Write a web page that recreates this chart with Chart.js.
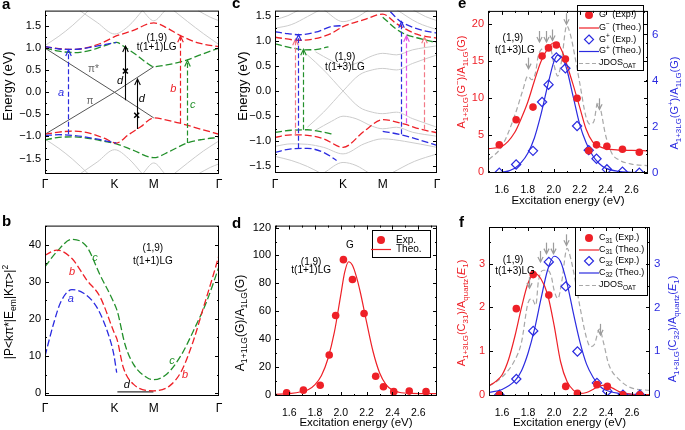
<!DOCTYPE html>
<html>
<head>
<meta charset="utf-8">
<title>Optical transitions in t(1+1)LG and t(1+3)LG</title>
<script src="https://cdn.jsdelivr.net/npm/chart.js@4.4.1/dist/chart.umd.min.js"></script>
<style>
  html, body { margin: 0; padding: 0; background: #fff; }
  body { position: relative; width: 685px; height: 430px; overflow: hidden; }
  canvas { position: absolute; }
</style>
</head>
<body>
<canvas id="pa" width="230" height="215" style="left:0;top:0"></canvas>
<canvas id="pb" width="230" height="215" style="left:0;top:215px"></canvas>
<canvas id="pc" width="230" height="215" style="left:230px;top:0"></canvas>
<canvas id="pd" width="230" height="215" style="left:230px;top:215px"></canvas>
<canvas id="pe" width="235" height="215" style="left:450px;top:0"></canvas>
<canvas id="pf" width="235" height="215" style="left:450px;top:215px"></canvas>
<script>
/* ---------- colours / fonts ---------- */
var FONT = "'Liberation Sans', Arial, Helvetica, sans-serif";
var RED = '#ee2027', BLUE = '#2b2be0', GREEN = '#23902b', PINK = '#f27a86', MAGENTA = '#e455e4';
var BAND = '#cccccc', JDOS = '#a8a8a8', ARROW = '#9c9c9c';

/* ---------- a: bands of (1,9) t(1+1)LG along Γ-K-M-Γ ---------- */
var kPos = [0, 0.40, 0.625, 1];
var kLabels = ['Γ', 'K', 'M', 'Γ'];

var aCondBlue  = [[0, 1.04], [0.08, 0.98], [0.16, 0.97], [0.25, 1.01], [0.33, 1.07], [0.41, 1.13]];
var aCondRed   = [[0, 1.03], [0.08, 0.99], [0.17, 0.97], [0.26, 1.03], [0.34, 1.14], [0.40, 1.26], [0.5, 1.39], [0.625, 1.57], [0.7, 1.46], [0.776, 1.29], [0.88, 1.12], [1, 1.03]];
var aCondGreen = [[0, 1.0], [0.08, 0.93], [0.17, 0.9], [0.26, 0.95], [0.34, 1.05], [0.41, 1.13], [0.46, 1.02], [0.52, 0.86], [0.58, 0.68], [0.625, 0.58], [0.7, 0.62], [0.814, 0.73], [0.9, 0.86], [1, 1.0]];
var aValBlue   = [[0, -0.98], [0.08, -0.96], [0.17, -0.98], [0.26, -1.03], [0.34, -1.09], [0.41, -1.15]];
var aValRed    = [[0, -0.95], [0.08, -0.9], [0.17, -0.88], [0.26, -0.93], [0.34, -1.04], [0.41, -1.15], [0.48, -0.96], [0.55, -0.78], [0.625, -0.58], [0.7, -0.63], [0.776, -0.7], [0.9, -0.84], [1, -0.95]];
var aValGreen  = [[0, -1.08], [0.08, -1.02], [0.17, -1.01], [0.26, -1.05], [0.34, -1.11], [0.41, -1.17], [0.5, -1.3], [0.625, -1.48], [0.72, -1.33], [0.814, -1.15], [0.9, -1.07], [1, -1.02]];
var aPiStar    = [[0, 1.0], [0.40, 0.0], [0.625, -0.58]];
var aPi        = [[0, -0.95], [0.40, 0.0], [0.625, 0.58]];
var aGrey = [
  [[0, 1.06], [0.08, 1.27], [0.16, 1.52], [0.25, 1.85]],
  [[0.2, 1.85], [0.3, 1.58], [0.40, 1.32], [0.48, 1.5], [0.56, 1.85]],
  [[0.56, 1.85], [0.625, 1.62], [0.69, 1.85]],
  [[0.74, 1.85], [0.82, 1.6], [0.91, 1.33], [1, 1.08]],
  [[0.88, 1.85], [0.95, 1.7], [1, 1.62]],
  [[0, -1.06], [0.08, -1.27], [0.16, -1.52], [0.25, -1.85]],
  [[0.2, -1.85], [0.3, -1.58], [0.40, -1.3], [0.48, -1.5], [0.56, -1.85]],
  [[0.56, -1.85], [0.625, -1.6], [0.69, -1.85]],
  [[0.74, -1.85], [0.82, -1.6], [0.91, -1.33], [1, -1.1]],
  [[0.88, -1.85], [0.95, -1.7], [1, -1.62]]
];
var aArrowX  = [0.134, 0.776, 0.814, 0.462, 0.527];
var aArrowLo = [-0.95, -0.70, -1.15, -0.18, -0.83];
var aArrowHi = [0.96, 1.27, 0.72, 1.05, 0.30];
var aCrossX  = [0.462, 0.527];
var aCrossY  = [0.48, -0.52];

/* ---------- b: optical matrix elements ---------- */
var bCurveA = [[0, 10], [0.048, 18.5], [0.09, 24.5], [0.155, 27.9], [0.22, 27], [0.3, 23], [0.37, 15], [0.395, 10.5], [0.412, 5.5]];
var bCurveB = [[0, 37.2], [0.067, 38.6], [0.155, 36.3], [0.24, 30.5], [0.316, 26], [0.4, 16], [0.414, 14.5], [0.45, 6.9], [0.508, 2.4], [0.623, 0.6], [0.718, 2], [0.785, 6], [0.852, 14], [0.91, 23], [0.968, 32], [1, 37.2]];
var bCurveC = [[0, 34.1], [0.067, 38.1], [0.155, 41.5], [0.24, 39.5], [0.316, 31.9], [0.393, 24.7], [0.416, 22], [0.46, 13.1], [0.508, 7.8], [0.585, 4.2], [0.623, 3.6], [0.699, 5.1], [0.785, 10.4], [0.852, 16.7], [0.929, 24.7], [1, 34.1]];
var bCurveD = [[0.416, 0.3], [0.623, 0.3]];

/* ---------- c: bands of (1,9) t(1+3)LG ---------- */
var cPos = [0, 0.42, 0.665, 1];
var cCondBlue1  = [[0, 1.18], [0.08, 1.14], [0.154, 1.12], [0.25, 1.17], [0.36, 1.29], [0.42, 1.3]];
var cCondBlue2  = [[0.6, 1.66], [0.66, 1.68], [0.776, 1.38], [0.875, 1.24], [1, 1.15]];
var cCondRed    = [[0, 1.07], [0.154, 1.01], [0.33, 1.12], [0.42, 1.28], [0.55, 1.42], [0.665, 1.53], [0.75, 1.34], [0.875, 1.13], [1, 1.05]];
var cCondGreen1 = [[0, 0.94], [0.1, 0.86], [0.18, 0.82], [0.26, 0.83], [0.33, 0.88]];
var cCondGreen2 = [[0.665, 1.47], [0.75, 1.23], [0.81, 1.12], [0.875, 1.06], [1, 0.96]];
var cValGreen   = [[0, -0.82], [0.1, -0.78], [0.2, -0.77], [0.3, -0.82], [0.36, -0.86]];
var cValRed     = [[0, -0.92], [0.1, -0.87], [0.2, -0.88], [0.3, -0.95], [0.42, -1.12], [0.55, -0.8], [0.665, -0.57], [0.8, -0.66], [0.9, -0.76], [1, -0.83]];
var cValBlue1   = [[0, -1.22], [0.1, -1.15], [0.2, -1.14], [0.3, -1.22], [0.38, -1.38]];
var cValBlue2   = [[0.665, -0.8], [0.78, -0.87], [0.9, -0.98], [1, -1.08]];
var cGrey = [
  [[0.2, 0.72], [0.3, 0.42], [0.42, 0], [0.52, -0.32], [0.6, -0.42], [0.665, -0.45], [0.75, -0.42], [0.85, -0.55], [1, -0.72]],
  [[0.2, -0.72], [0.3, -0.42], [0.42, 0], [0.52, 0.32], [0.6, 0.42], [0.665, 0.45], [0.75, 0.42], [0.85, 0.55], [1, 0.72]],
  [[0.25, 0.78], [0.35, 0.6], [0.42, 0.5], [0.5, 0.55], [0.6, 0.7], [0.665, 0.75], [0.75, 0.72], [0.85, 0.82], [1, 0.9]],
  [[0.25, -0.78], [0.35, -0.6], [0.42, -0.5], [0.5, -0.55], [0.6, -0.7], [0.665, -0.75], [0.75, -0.72], [0.85, -0.82], [1, -0.9]],
  [[0, 1.25], [0.1, 1.32], [0.2, 1.48], [0.28, 1.62]],
  [[0, 1.42], [0.08, 1.5], [0.15, 1.62]],
  [[0.3, 1.62], [0.42, 1.38], [0.5, 1.46], [0.58, 1.62]],
  [[0.75, 1.62], [0.88, 1.36], [1, 1.22]],
  [[0.85, 1.62], [0.93, 1.48], [1, 1.4]],
  [[0, -1.3], [0.1, -1.38], [0.2, -1.5], [0.28, -1.63]],
  [[0.3, -1.63], [0.42, -1.42], [0.5, -1.48], [0.58, -1.63]],
  [[0.72, -1.63], [0.86, -1.4], [1, -1.25]],
  [[0, -1.1], [0.1, -1.05], [0.2, -1.06], [0.3, -1.12], [0.42, -1.25], [0.55, -1.05], [0.665, -0.95], [0.8, -1.0], [1, -1.12]]
];
var cArrowX  = [0.123, 0.144, 0.175, 0.776, 0.81, 0.917];
var cArrowLo = [-0.88, -1.14, -0.77, -0.86, -0.64, -0.77];
var cArrowHi = [1.03, 1.12, 0.83, 1.38, 1.1, 1.07];

/* ---------- d: G band area ratio, t(1+1)LG ---------- */
var dE    = [1.58, 1.71, 1.84, 1.91, 1.96, 2.02, 2.09, 2.18, 2.27, 2.33, 2.41, 2.53, 2.66];
var dExp  = [1.6, 3.5, 7, 28.7, 57, 97, 82.8, 58.4, 13.4, 5.9, 2.4, 2.8, 2.4];
var dTheoE = [1.49, 1.6, 1.7, 1.75, 1.8, 1.85, 1.9, 1.95, 2.0, 2.03, 2.06, 2.09, 2.12, 2.15, 2.2, 2.25, 2.3, 2.35, 2.4, 2.45, 2.55, 2.745];
var dTheo  = [0.5, 1, 2.5, 4, 7.5, 14, 26, 45, 72, 88, 95.5, 93, 85, 74, 52, 31, 16, 7.5, 3.5, 2, 1.2, 1];

/* ---------- e: G- / G+ area ratio, t(1+3)LG ---------- */
var eE      = [1.58, 1.71, 1.84, 1.91, 1.96, 2.02, 2.09, 2.18, 2.27, 2.33, 2.41, 2.53, 2.66];
var eGmExp  = [3.7, 7.1, 8.8, 15.7, 16.8, 17.2, 15.3, 10.0, 2.9, 3.7, 3.5, 3.1, 2.7];
var eGpExp  = [0, 0.36, 0.95, 3.07, 3.82, 5.0, 4.53, 2.03, 0.98, 0.61, 0.15, 0.05, 0];
var eTheoE  = [1.5, 1.6, 1.7, 1.75, 1.8, 1.85, 1.9, 1.95, 2.0, 2.03, 2.07, 2.1, 2.15, 2.2, 2.25, 2.3, 2.35, 2.4, 2.5, 2.6, 2.72];
var eGmTheo = [3.2, 3.5, 5.4, 7.3, 9.5, 12.3, 14.9, 16.6, 17.5, 17.4, 16.1, 14.6, 11.8, 8.8, 5.8, 4.1, 3.5, 3.2, 3.0, 2.95, 2.9];
var eGpTheo = [0, 0.02, 0.2, 0.45, 0.85, 1.5, 2.5, 3.7, 4.8, 5.1, 4.95, 4.5, 3.3, 2.1, 1.3, 0.75, 0.4, 0.2, 0.06, 0.02, 0];
var eJdosE  = [1.5, 1.6, 1.7, 1.76, 1.8, 1.83, 1.86, 1.88, 1.92, 1.95, 1.98, 2.0, 2.03, 2.06, 2.1, 2.13, 2.17, 2.2, 2.25, 2.28, 2.31, 2.34, 2.36, 2.4, 2.45, 2.5, 2.6, 2.72];
var eJdos   = [1.7, 3.5, 7.7, 11, 13, 12.5, 13.5, 15.7, 16.8, 17, 16.5, 14.7, 13, 15, 19.8, 18.5, 15, 12.1, 7.4, 6.5, 6.9, 9.5, 8.6, 5, 2.5, 1.7, 1.1, 0.9];
var peakE   = [1.805, 1.89, 1.94, 1.99, 2.095, 2.35];
var ePeakTip = [14.0, 17.6, 17.6, 17.8, 20.0, 8.5];

/* ---------- f: C31 / C32 area ratio, t(1+3)LG ---------- */
var fE      = [1.58, 1.71, 1.84, 1.96, 2.09, 2.18, 2.33, 2.41, 2.53, 2.66];
var fC31Exp = [0, 1.97, 2.75, 2.28, 0.19, 0.03, 0.23, 0.19, 0, 0];
var fC32Exp = [0, 0.36, 1.46, 3.04, 2.48, 0.99, 0.27, 0.08, 0, 0];
var fC31TheoE = [1.5, 1.55, 1.6, 1.65, 1.7, 1.75, 1.8, 1.85, 1.9, 1.95, 2.0, 2.05, 2.1, 2.15, 2.2, 2.25, 2.3, 2.35, 2.4, 2.45, 2.5, 2.6, 2.74];
var fC31Theo  = [0.2, 0.3, 0.45, 0.8, 1.35, 2.0, 2.55, 2.78, 2.65, 2.3, 1.6, 0.76, 0.3, 0.1, 0.03, 0.05, 0.12, 0.2, 0.22, 0.15, 0.07, 0.01, 0];
var fC32TheoE = [1.5, 1.6, 1.7, 1.75, 1.8, 1.85, 1.9, 1.95, 2.0, 2.05, 2.1, 2.15, 2.2, 2.25, 2.3, 2.35, 2.4, 2.5, 2.6, 2.74];
var fC32Theo  = [0.05, 0.12, 0.32, 0.55, 0.95, 1.5, 2.2, 2.85, 3.17, 3.05, 2.55, 1.85, 1.2, 0.7, 0.4, 0.2, 0.1, 0.03, 0.01, 0];
var fJdosE = [1.5, 1.6, 1.7, 1.75, 1.8, 1.83, 1.86, 1.88, 1.92, 1.95, 1.98, 2.0, 2.03, 2.06, 2.1, 2.13, 2.17, 2.2, 2.25, 2.28, 2.31, 2.35, 2.38, 2.42, 2.5, 2.6, 2.74];
var fJdos  = [0.2, 0.4, 0.8, 1.2, 2.1, 2.2, 2.05, 2.6, 2.85, 2.85, 2.7, 2.4, 2.2, 2.6, 3.35, 3.1, 2.5, 2.0, 1.3, 1.1, 1.15, 1.5, 1.2, 0.7, 0.35, 0.15, 0.1];
var fPeakTip = [2.44, 3.04, 3.23, 3.23, 3.42, 1.37];

/* ---------- helpers ---------- */
Chart.defaults.font.family = FONT;
Chart.defaults.color = '#000';

function pairs(p) { return p.map(function (q) { return { x: q[0], y: q[1] }; }); }
function zip(xs, ys) { return xs.map(function (x, i) { return { x: x, y: ys[i] }; }); }

function curve(data, color, dash, width, axis) {
  return {
    data: data, showLine: true, borderColor: color, borderWidth: width || 1.3,
    borderDash: dash || [], pointRadius: 0, cubicInterpolationMode: 'monotone',
    fill: false, yAxisID: axis || 'y'
  };
}
function straight(data, color, width) {
  return { data: data, showLine: true, borderColor: color, borderWidth: width || 1, pointRadius: 0, tension: 0, fill: false };
}
function dots(data, color, axis) {
  return { data: data, showLine: false, pointStyle: 'circle', pointRadius: 3.8, backgroundColor: color, borderWidth: 0, yAxisID: axis || 'y' };
}
function diamonds(data, color, axis) {
  return { data: data, showLine: false, pointStyle: 'rectRot', pointRadius: 4.6, backgroundColor: 'rgba(255,255,255,0)', borderColor: color, borderWidth: 1.2, yAxisID: axis || 'y' };
}

function fmt1(v) { return v < 0 ? '\u2212' + Math.abs(v).toFixed(1) : v.toFixed(1); }

/* rich text: _{sub}  ^{sup}  ~{italic} */
function parseRich(s) {
  var out = [], i = 0, buf = '';
  while (i < s.length) {
    var c = s[i];
    if ((c === '_' || c === '^' || c === '~') && s[i + 1] === '{') {
      if (buf) { out.push({ t: buf, m: '' }); buf = ''; }
      var j = s.indexOf('}', i);
      out.push({ t: s.slice(i + 2, j), m: c });
      i = j + 1;
    } else { buf += c; i++; }
  }
  if (buf) out.push({ t: buf, m: '' });
  return out;
}
function segFont(m, size, bold) {
  var sz = (m === '_' || m === '^') ? size * 0.72 : size;
  return (m === '~' ? 'italic ' : '') + (bold ? 'bold ' : '') + sz.toFixed(1) + 'px ' + FONT;
}
function drawRich(ctx, s, x, y, size, color, align, bold) {
  var segs = parseRich(s), w = 0;
  segs.forEach(function (g) { ctx.font = segFont(g.m, size, bold); g.w = ctx.measureText(g.t).width; w += g.w; });
  var cx = align === 'left' ? x : align === 'right' ? x - w : x - w / 2;
  ctx.fillStyle = color; ctx.textBaseline = 'middle'; ctx.textAlign = 'left';
  segs.forEach(function (g) {
    ctx.font = segFont(g.m, size, bold);
    var dy = g.m === '_' ? size * 0.32 : g.m === '^' ? -size * 0.36 : 0;
    ctx.fillText(g.t, cx, y + dy);
    cx += g.w;
  });
}
function drawRotated(ctx, s, x, y, size, color) {
  ctx.save(); ctx.translate(x, y); ctx.rotate(-Math.PI / 2);
  drawRich(ctx, s, 0, 0, size, color, 'center');
  ctx.restore();
}

function inwardTicks(chart, t) {
  var ctx = chart.ctx, ca = chart.chartArea;
  ctx.strokeStyle = '#000'; ctx.lineWidth = 1; ctx.setLineDash([]);
  ['x', 'y', 'y2'].forEach(function (id) {
    var s = chart.scales[id];
    if (!s || !t[id]) return;
    var vals = s.ticks.map(function (k) { return k.value; });
    var step = vals.length > 1 ? vals[1] - vals[0] : 0;
    var minors = [];
    if (t.minor && step) {
      for (var v = vals[0] - step / 2; v <= s.max; v += step) { if (v >= s.min) minors.push(v); }
    }
    function mark(v, len) {
      var p = Math.round(s.getPixelForValue(v)) + 0.5;
      ctx.beginPath();
      if (id === 'x') {
        ctx.moveTo(p, ca.bottom); ctx.lineTo(p, ca.bottom - len);
        if (t.mirror) { ctx.moveTo(p, ca.top); ctx.lineTo(p, ca.top + len); }
      } else if (id === 'y') {
        ctx.moveTo(ca.left, p); ctx.lineTo(ca.left + len, p);
        if (t.mirror) { ctx.moveTo(ca.right, p); ctx.lineTo(ca.right - len, p); }
      } else {
        ctx.moveTo(ca.right, p); ctx.lineTo(ca.right - len, p);
      }
      ctx.stroke();
    }
    vals.forEach(function (v) { mark(v, 4); });
    minors.forEach(function (v) { mark(v, 2); });
  });
}

function drawLegend(ctx, L) {
  ctx.setLineDash([]);
  ctx.fillStyle = '#fff'; ctx.fillRect(L.x, L.y, L.w, L.h);
  ctx.strokeStyle = '#000'; ctx.lineWidth = 1; ctx.strokeRect(L.x + 0.5, L.y + 0.5, L.w, L.h);
  L.rows.forEach(function (r, i) {
    var y = L.rowY[i], sx = L.symX;
    ctx.setLineDash([]);
    if (r.kind === 'dot') {
      ctx.fillStyle = r.color; ctx.beginPath(); ctx.arc(sx, y, 4, 0, 2 * Math.PI); ctx.fill();
    } else if (r.kind === 'diamond') {
      ctx.strokeStyle = r.color; ctx.lineWidth = 1.2; ctx.beginPath();
      ctx.moveTo(sx, y - 4.5); ctx.lineTo(sx + 4.5, y); ctx.lineTo(sx, y + 4.5); ctx.lineTo(sx - 4.5, y); ctx.closePath(); ctx.stroke();
    } else {
      ctx.strokeStyle = r.color; ctx.lineWidth = 1.2;
      if (r.kind === 'dash') ctx.setLineDash([4, 2.5]);
      ctx.beginPath(); ctx.moveTo(sx - 10, y + 0.5); ctx.lineTo(sx + 10, y + 0.5); ctx.stroke();
    }
    drawRich(ctx, r.text, L.textX, y, L.size, '#000', 'left');
  });
  ctx.setLineDash([]);
}

/* per-panel decorations, keyed by canvas id */
var DECO = {};

var decoPlugin = {
  id: 'deco',
  afterDraw: function (chart) {
    var o = DECO[chart.canvas.id];
    if (!o) return;
    var ctx = chart.ctx, ca = chart.chartArea, sx = chart.scales.x;
    ctx.save();

    if (o.arrows) {
      var A = o.arrows;
      A.x.forEach(function (xv, i) {
        var px = Math.round(sx.getPixelForValue(xv)) + 0.5;
        var lo = chart.scales.y.getPixelForValue(A.lo[i]), hi = chart.scales.y.getPixelForValue(A.hi[i]);
        ctx.strokeStyle = A.color[i]; ctx.lineWidth = A.dash[i] ? 1.2 : 1.1;
        ctx.setLineDash(A.dash[i] ? [5, 2.5] : []);
        ctx.beginPath(); ctx.moveTo(px, lo); ctx.lineTo(px, hi + 1); ctx.stroke();
        ctx.setLineDash([]);
        ctx.beginPath(); ctx.moveTo(px - 2.8, hi + 6); ctx.lineTo(px, hi); ctx.lineTo(px + 2.8, hi + 6); ctx.stroke();
      });
    }

    if (o.peaks) {
      var P = o.peaks;
      ctx.strokeStyle = ARROW; ctx.lineWidth = 1.2; ctx.setLineDash([]);
      P.x.forEach(function (xv, i) {
        var px = Math.round(sx.getPixelForValue(xv)) + 0.5, tip = chart.scales.y.getPixelForValue(P.tip[i]);
        ctx.beginPath(); ctx.moveTo(px, tip - 11); ctx.lineTo(px, tip); ctx.stroke();
        ctx.beginPath(); ctx.moveTo(px - 2.6, tip - 5); ctx.lineTo(px, tip); ctx.lineTo(px + 2.6, tip - 5); ctx.stroke();
      });
    }

    (o.texts || []).forEach(function (t) {
      var px = sx.getPixelForValue(t.x), py = chart.scales[t.axis || 'y'].getPixelForValue(t.y);
      if (t.italic) drawRich(ctx, '~{' + t.s + '}', px, py, t.size || 10, t.color || '#000', 'center');
      else drawRich(ctx, t.s, px, py, t.size || 10, t.color || '#000', 'center');
    });

    if (o.legend) drawLegend(ctx, o.legend);

    ctx.setLineDash([]);
    ctx.strokeStyle = '#000'; ctx.lineWidth = 1;
    ctx.strokeRect(ca.left + 0.5, ca.top + 0.5, ca.right - ca.left - 1, ca.bottom - ca.top - 1);
    if (o.ticks) inwardTicks(chart, o.ticks);

    if (o.yTitle) drawRotated(ctx, o.yTitle.s, o.yTitle.x, o.yTitle.y, o.yTitle.size, o.yTitle.color || '#000');
    if (o.y2Title) drawRotated(ctx, o.y2Title.s, o.y2Title.x, o.y2Title.y, o.y2Title.size, o.y2Title.color || '#000');
    if (o.xTitle) drawRich(ctx, o.xTitle.s, (ca.left + ca.right) / 2, o.xTitle.y, o.xTitle.size, '#000', 'center');
    if (o.letter) drawRich(ctx, o.letter.t, o.letter.x, o.letter.y, 15, '#000', 'left', true);
    ctx.restore();
  }
};
Chart.register(decoPlugin);

/* axis builders (no outside tick marks; labels placed by padding) */
function noGrid() { return { display: false, drawTicks: false, tickLength: 0 }; }
function kAxis(pos, height, pad) {
  return {
    type: 'linear', min: 0, max: 1,
    grid: noGrid(), border: { display: false },
    afterBuildTicks: function (s) { s.ticks = pos.map(function (v) { return { value: v }; }); },
    afterFit: function (s) { s.height = height; },
    ticks: { autoSkip: false, maxRotation: 0, padding: pad, font: { size: 12 }, callback: function (v, i) { return kLabels[i]; } }
  };
}
function valAxis(min, max, step, width, opts) {
  opts = opts || {};
  return {
    type: 'linear', min: min, max: max, position: opts.position || 'left',
    grid: noGrid(), border: { display: false },
    afterFit: function (s) { s.width = width; },
    ticks: {
      stepSize: step, includeBounds: false, padding: opts.padding || 4, color: opts.color || '#000',
      font: { size: opts.size || 11 }, callback: opts.callback || function (v) { return String(v); }
    }
  };
}
function energyAxis(min, max, height) {
  return {
    type: 'linear', min: min, max: max,
    grid: noGrid(), border: { display: false },
    afterFit: function (s) { s.height = height; },
    ticks: { stepSize: 0.2, includeBounds: false, padding: 11, font: { size: 10.5 }, maxRotation: 0,
             callback: function (v) { return v.toFixed(1); } }
  };
}
function baseOptions(top, right, scales) {
  return {
    responsive: false, animation: false, events: [],
    layout: { padding: { top: top, right: right, left: 0, bottom: 0 } },
    plugins: { legend: { display: false }, tooltip: { enabled: false } },
    scales: scales
  };
}

/* ---------- panel a ---------- */
var aSets = [];
aSets.push({ data: zip(aCrossX, aCrossY), showLine: false, pointStyle: 'crossRot', pointRadius: 3.5, borderColor: '#000', borderWidth: 1.5 });
[[aCondBlue, BLUE], [aCondRed, RED], [aCondGreen, GREEN], [aValBlue, BLUE], [aValRed, RED], [aValGreen, GREEN]].forEach(function (c) {
  aSets.push(curve(pairs(c[0]), c[1], [7, 3], 1.3));
});
aSets.push(straight(pairs(aPiStar), '#555', 1));
aSets.push(straight(pairs(aPi), '#555', 1));
aGrey.forEach(function (g) { aSets.push(curve(pairs(g), BAND, [], 1)); });

DECO.pa = {
  letter: { t: 'a', x: 2, y: 5 },
  yTitle: { s: 'Energy (eV)', x: 8, y: 86, size: 13 },
  ticks: { y: true, mirror: true, minor: true },
  arrows: { x: aArrowX, lo: aArrowLo, hi: aArrowHi, color: [BLUE, RED, GREEN, '#000', '#000'], dash: [1, 1, 1, 0, 0] },
  texts: [
    { s: '(1,9)', x: 0.642, y: 1.22, size: 10 },
    { s: 't(1+1)LG', x: 0.642, y: 1.03, size: 10 },
    { s: 'π*', x: 0.278, y: 0.52, size: 10, color: '#666' },
    { s: 'π', x: 0.259, y: -0.21, size: 10, color: '#666' },
    { s: 'a', x: 0.092, y: -0.02, size: 11, color: BLUE, italic: true },
    { s: 'b', x: 0.737, y: 0.07, size: 11, color: RED, italic: true },
    { s: 'c', x: 0.849, y: -0.29, size: 11, color: GREEN, italic: true },
    { s: 'd', x: 0.431, y: 0.25, size: 11, italic: true },
    { s: 'd', x: 0.556, y: -0.14, size: 11, italic: true }
  ]
};
new Chart(document.getElementById('pa'), {
  type: 'scatter',
  data: { datasets: aSets },
  options: baseOptions(6, 11, { x: kAxis(kPos, 41, 3), y: valAxis(-1.85, 1.85, 0.5, 45, { callback: fmt1 }) })
});

/* ---------- panel b ---------- */
DECO.pb = {
  letter: { t: 'b', x: 2, y: 7 },
  yTitle: { s: '|P<kπ*|E_{em}|Kπ>|^{2}', x: 10, y: 97, size: 12 },
  ticks: { y: true, mirror: true, minor: true },
  texts: [
    { s: '(1,9)', x: 0.62, y: 39, size: 10 },
    { s: 't(1+1)LG', x: 0.62, y: 35.6, size: 10 },
    { s: 'a', x: 0.148, y: 25.5, size: 11, color: BLUE, italic: true },
    { s: 'b', x: 0.155, y: 32.6, size: 11, color: RED, italic: true },
    { s: 'c', x: 0.287, y: 36.6, size: 11, color: GREEN, italic: true },
    { s: 'c', x: 0.73, y: 8.6, size: 11, color: GREEN, italic: true },
    { s: 'b', x: 0.805, y: 4.8, size: 11, color: RED, italic: true },
    { s: 'd', x: 0.47, y: 2.2, size: 11, italic: true }
  ]
};
new Chart(document.getElementById('pb'), {
  type: 'scatter',
  data: { datasets: [
    curve(pairs(bCurveA), BLUE, [7, 3], 1.3),
    curve(pairs(bCurveB), RED, [7, 3], 1.3),
    curve(pairs(bCurveC), GREEN, [7, 3], 1.3),
    straight(pairs(bCurveD), '#333', 1.2)
  ] },
  options: baseOptions(10, 11, { x: kAxis(kPos, 34, 5), y: valAxis(-0.8, 45.2, 10, 45) })
});

/* ---------- panel c ---------- */
var cSets = [];
[[cCondBlue1, BLUE], [cCondBlue2, BLUE], [cCondRed, RED], [cCondGreen1, GREEN], [cCondGreen2, GREEN],
 [cValGreen, GREEN], [cValRed, RED], [cValBlue1, BLUE], [cValBlue2, BLUE]].forEach(function (c) {
  cSets.push(curve(pairs(c[0]), c[1], [7, 3], 1.3));
});
cGrey.forEach(function (g) { cSets.push(curve(pairs(g), BAND, [], 1)); });

DECO.pc = {
  letter: { t: 'c', x: 2, y: 4 },
  yTitle: { s: 'Energy (eV)', x: 13, y: 86, size: 13 },
  ticks: { y: true, mirror: true, minor: true },
  arrows: { x: cArrowX, lo: cArrowLo, hi: cArrowHi, color: [PINK, BLUE, GREEN, BLUE, MAGENTA, PINK], dash: [1, 1, 1, 1, 1, 1] },
  texts: [
    { s: '(1,9)', x: 0.432, y: 0.67, size: 10 },
    { s: 't(1+3)LG', x: 0.432, y: 0.48, size: 10 }
  ]
};
new Chart(document.getElementById('pc'), {
  type: 'scatter',
  data: { datasets: cSets },
  options: baseOptions(6, 23, { x: kAxis(cPos, 42, 4), y: valAxis(-1.63, 1.6, 0.5, 45, { callback: fmt1 }) })
});

/* ---------- panel d ---------- */
DECO.pd = {
  letter: { t: 'd', x: 2, y: 9 },
  yTitle: { s: 'A_{1+1LG}(G)/A_{1LG}(G)', x: 11, y: 108, size: 12 },
  xTitle: { s: 'Excitation energy (eV)', y: 208, size: 11.5 },
  ticks: { x: true, y: true, mirror: true, minor: true },
  texts: [
    { s: 'G', x: 2.07, y: 107, size: 10 },
    { s: '(1,9)', x: 1.77, y: 95.3, size: 10 },
    { s: 't(1+1)LG', x: 1.77, y: 89.4, size: 10 }
  ],
  legend: {
    x: 142, y: 15, w: 58, h: 27, symX: 151, textX: 166, size: 10, rowY: [25, 34],
    rows: [{ kind: 'dot', color: RED, text: 'Exp.' }, { kind: 'line', color: RED, text: 'Theo.' }]
  }
};
new Chart(document.getElementById('pd'), {
  type: 'scatter',
  data: { datasets: [dots(zip(dE, dExp), RED), curve(zip(dTheoE, dTheo), RED, [], 1.2)] },
  options: baseOptions(8, 23, { x: energyAxis(1.49, 2.745, 34), y: valAxis(-0.7, 121.4, 20, 45) })
});

/* ---------- panel e ---------- */
DECO.pe = {
  letter: { t: 'e', x: 8, y: 4 },
  yTitle: { s: 'A_{1+3LG}(G^{−})/A_{1LG}(G)', x: 12, y: 82, size: 11, color: RED },
  y2Title: { s: 'A_{1+3LG}(G^{+})/A_{1LG}(G)', x: 225, y: 103, size: 11, color: BLUE },
  xTitle: { s: 'Excitation energy (eV)', y: 201, size: 11.5 },
  ticks: { x: true, y: true, y2: true, mirror: true, minor: true },
  peaks: { x: peakE, tip: ePeakTip },
  texts: [
    { s: '(1,9)', x: 1.685, y: 18.1, size: 10 },
    { s: 't(1+3)LG', x: 1.70, y: 16.5, size: 10 }
  ],
  legend: {
    x: 127, y: 5, w: 66, h: 65, symX: 139, textX: 149, size: 9, rowY: [15, 27.5, 39.5, 51, 63],
    rows: [
      { kind: 'dot', color: RED, text: 'G^{−} (Exp.)' },
      { kind: 'line', color: RED, text: 'G^{−} (Theo.)' },
      { kind: 'diamond', color: BLUE, text: 'G^{+} (Exp.)' },
      { kind: 'line', color: BLUE, text: 'G^{+} (Theo.)' },
      { kind: 'dash', color: JDOS, text: 'JDOS_{OAT}' }
    ]
  }
};
new Chart(document.getElementById('pe'), {
  type: 'scatter',
  data: { datasets: [
    dots(zip(eE, eGmExp), RED),
    diamonds(zip(eE, eGpExp), BLUE, 'y2'),
    curve(zip(eTheoE, eGmTheo), RED, [], 1.2),
    curve(zip(eTheoE, eGpTheo), BLUE, [], 1.2, 'y2'),
    curve(zip(eJdosE, eJdos), JDOS, [5, 3], 1.2)
  ] },
  options: baseOptions(4, 0, {
    x: energyAxis(1.493, 2.727, 42),
    y: valAxis(-0.1, 21.8, 5, 38, { color: RED }),
    y2: valAxis(-0.01, 7.02, 2, 37, { position: 'right', color: BLUE, size: 11.5 })
  })
});

/* ---------- panel f ---------- */
DECO.pf = {
  letter: { t: 'f', x: 9, y: 8 },
  yTitle: { s: 'A_{1+3LG}(C_{31})/A_{quartz}(~{E}_{1})', x: 12, y: 98, size: 11, color: RED },
  y2Title: { s: 'A_{1+3LG}(C_{32})/A_{quartz}(~{E}_{1})', x: 223, y: 114, size: 11, color: BLUE },
  xTitle: { s: 'Excitation energy (eV)', y: 208, size: 11.5 },
  ticks: { x: true, y: true, y2: true, mirror: true, minor: true },
  peaks: { x: peakE, tip: fPeakTip },
  texts: [
    { s: '(1,9)', x: 1.685, y: 3.07, size: 10 },
    { s: 't(1+3)LG', x: 1.70, y: 2.82, size: 10 }
  ],
  legend: {
    x: 125, y: 12, w: 72, h: 68, symX: 139, textX: 149, size: 9, rowY: [23, 34.5, 46, 57.5, 70],
    rows: [
      { kind: 'dot', color: RED, text: 'C_{31} (Exp.)' },
      { kind: 'line', color: RED, text: 'C_{31} (Theo.)' },
      { kind: 'diamond', color: BLUE, text: 'C_{32} (Exp.)' },
      { kind: 'line', color: BLUE, text: 'C_{32} (Theo.)' },
      { kind: 'dash', color: JDOS, text: 'JDOS_{OAT}' }
    ]
  }
};
new Chart(document.getElementById('pf'), {
  type: 'scatter',
  data: { datasets: [
    dots(zip(fE, fC31Exp), RED),
    diamonds(zip(fE, fC32Exp), BLUE, 'y2'),
    curve(zip(fC31TheoE, fC31Theo), RED, [], 1.2),
    curve(zip(fC32TheoE, fC32Theo), BLUE, [], 1.2, 'y2'),
    curve(zip(fJdosE, fJdos), JDOS, [5, 3], 1.2)
  ] },
  options: baseOptions(12, 0, {
    x: energyAxis(1.50, 2.738, 34),
    y: valAxis(-0.03, 3.84, 1, 39, { color: RED }),
    y2: valAxis(-0.03, 3.84, 1, 35, { position: 'right', color: BLUE, size: 11.5 })
  })
});
</script>
</body>
</html>
